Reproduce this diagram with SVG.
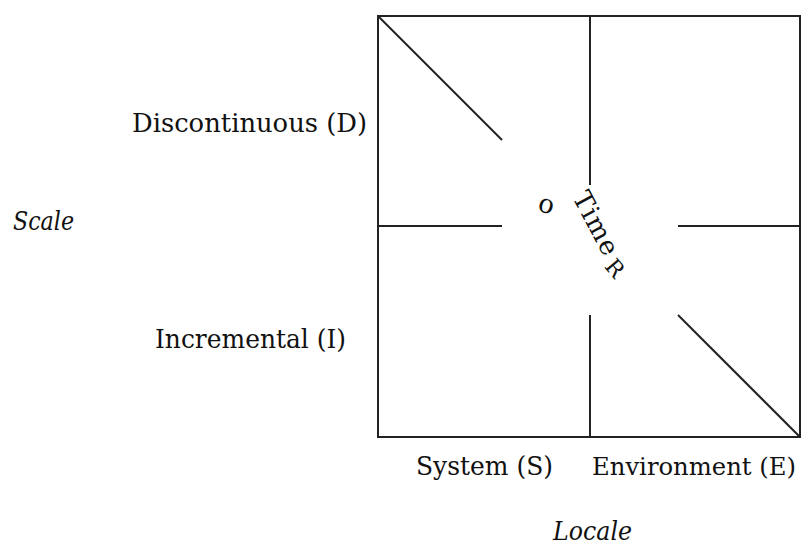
<svg xmlns="http://www.w3.org/2000/svg" width="806" height="548" viewBox="0 0 806 548">
<style>
.ln{stroke:#222;stroke-width:2;fill:none}
.t{font-family:"DejaVu Serif","Liberation Serif",serif;font-size:26px;fill:#111}
.it{font-style:italic}
</style>
<rect width="806" height="548" fill="#fff"/>
<g id="connectors">
<rect class="ln" x="378" y="16" width="422" height="421"/>
<line class="ln" x1="590" y1="16" x2="590" y2="185"/>
<line class="ln" x1="590" y1="315" x2="590" y2="437"/>
<line class="ln" x1="378" y1="226" x2="502" y2="226"/>
<line class="ln" x1="678" y1="226" x2="800" y2="226"/>
<line class="ln" x1="378" y1="16" x2="502" y2="140"/>
<line class="ln" x1="678" y1="315" x2="800" y2="437"/>
</g>
<g id="discontinuous"><text class="t" x="132" y="132" textLength="235" lengthAdjust="spacingAndGlyphs">Discontinuous (D)</text></g>
<g id="incremental"><text class="t" x="155" y="348" textLength="191" lengthAdjust="spacingAndGlyphs">Incremental (I)</text></g>
<g id="scale"><text class="t it" x="13" y="230" textLength="61" lengthAdjust="spacingAndGlyphs">Scale</text></g>
<g id="system"><text class="t" x="416" y="475" textLength="137" lengthAdjust="spacingAndGlyphs">System (S)</text></g>
<g id="environment"><text class="t" x="592" y="475" style="font-size:24px" textLength="204" lengthAdjust="spacingAndGlyphs">Environment (E)</text></g>
<g id="locale"><text class="t it" x="553" y="540" textLength="79" lengthAdjust="spacingAndGlyphs">Locale</text></g>
<g id="time">
<text class="t" x="538" y="213" transform="rotate(15 547 207)">o</text>
<text class="t" x="572" y="197" transform="rotate(62 572 197)" style="letter-spacing:1px">Time</text>
<text class="t" x="601" y="273" transform="rotate(50 609 273)" style="font-size:22px">R</text>
</g>
</svg>
